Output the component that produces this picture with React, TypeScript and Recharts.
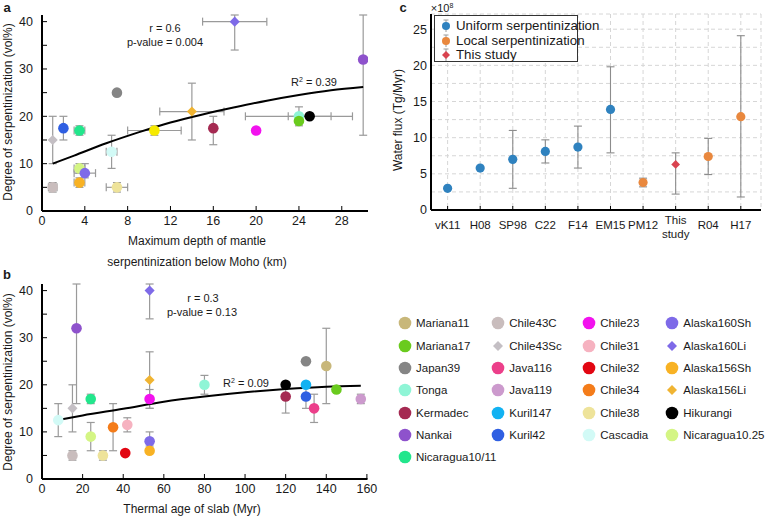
import React from 'react';
import { ScatterChart, Scatter, XAxis, YAxis, ErrorBar, CartesianGrid, Legend } from 'recharts';

const FONT = '"Liberation Sans", Arial, sans-serif';

// sites used in panels a and b (legend order: column by column)
const siteNames = [
  'Mariana11', 'Mariana17', 'Japan39', 'Tonga', 'Kermadec', 'Nankai', 'Nicaragua10/11',
  'Chile43C', 'Chile43Sc', 'Java116', 'Java119', 'Kuril147', 'Kuril42',
  'Chile23', 'Chile31', 'Chile32', 'Chile34', 'Chile38', 'Cascadia',
  'Alaska160Sh', 'Alaska160Li', 'Alaska156Sh', 'Alaska156Li', 'Hikurangi', 'Nicaragua10.25',
];
const siteColors = [
  '#c8b77a', '#6acb1e', '#858585', '#8ff5d6', '#a52a52', '#8e52cc', '#22e68c',
  '#c9bdbd', '#c4bfc4', '#ec3f8a', '#cc9acd', '#12b2f2', '#2f5fe2',
  '#f212ee', '#f6b2c0', '#e20612', '#f47c1a', '#eee39a', '#d2faf6',
  '#7e6ae8', '#7e6ae8', '#f8b224', '#f0b432', '#000000', '#d4f584',
];
const diamondSites = ['Chile43Sc', 'Alaska160Li', 'Alaska156Li'];
const legendColumns = [7, 6, 6, 6];

// panel a
const depthSites = ['Chile43Sc', 'Chile43C', 'Kuril42', 'Nicaragua10/11', 'Nicaragua10.25', 'Alaska156Sh', 'Alaska160Sh', 'Cascadia', 'Japan39', 'Chile38', 'other', 'Alaska156Li', 'Kermadec', 'Alaska160Li', 'Chile23', 'Tonga', 'Mariana17', 'Hikurangi', 'Nankai'];
const depthKm = [1, 1, 2, 3.5, 3.5, 3.5, 4, 6.5, 7, 7, 10.5, 14, 16, 18, 20, 24, 24, 25, 30];
const serpByDepth = [15, 5, 17.5, 17, 9, 6, 8, 12.5, 25, 5, 17, 21, 17.5, 40, 17, 20, 19, 20, 32];
const depthRange: ([number, number] | null)[] = [null, [0.6, 1.4], null, [3, 4], [3, 4], [3, 4], [3, 5], [6, 7], null, [6, 8], [8, 13], [11, 17], null, [15, 21], null, [19, 29], null, [23, 27], null];
// bars that run off the top of the frame stop at the frame (41.4)
const serpRangeA: ([number, number] | null)[] = [[10, 20], [4, 6], [15, 20], [16, 18], [8, 10], [5, 7], [7, 10], [9, 16], null, [4, 6], [16, 18], [15, 27], [14, 20], [34, 41.4], null, [18, 22], null, null, [16, 41.4]];
const fitDepthX = [1, 3, 6, 9, 12, 15, 18, 21, 24, 27, 30];
const fitDepthY = [10, 11.7, 14.3, 16.6, 18.7, 20.4, 21.9, 23.3, 24.5, 25.5, 26.2];

// panel b
const ageSites = ['Cascadia', 'Chile43Sc', 'Chile43C', 'Nankai', 'Nicaragua10/11', 'Nicaragua10.25', 'Chile38', 'Chile34', 'Chile32', 'Chile31', 'Alaska160Li', 'Alaska156Li', 'Chile23', 'Alaska160Sh', 'Alaska156Sh', 'Tonga', 'Kermadec', 'Hikurangi', 'Japan39', 'Kuril147', 'Kuril42', 'Java116', 'Mariana11', 'Mariana17', 'Java119'];
const slabAge = [8, 15, 15, 17, 24, 24, 30, 35, 41, 42, 53, 53, 53, 53, 53, 80, 120, 120, 130, 130, 130, 134, 140, 145, 157];
const serpByAge = [12.5, 15, 5, 32, 17, 9, 5, 11, 5.5, 11.5, 40, 21, 17, 8, 6, 20, 17.5, 20, 25, 20, 17.5, 15, 24, 19, 17];
const serpRangeB: ([number, number] | null)[] = [[9, 16], [10, 20], [4, 6], [16, 41.4], [16, 18], [6, 12], [4, 6], [6, 16], null, [10, 13], [34, 41.4], [15, 27], [15, 19], [7, 10], null, [18, 22], [14, 20], null, null, null, [15, 20], [12, 18], [16, 32], null, [16, 18]];
const fitAgeX = [10, 20, 40, 60, 80, 100, 120, 140, 157];
const fitAgeY = [12.7, 13.5, 14.9, 16.4, 17.5, 18.4, 19.1, 19.6, 19.8];

// panel c
const fluxRefs = ['vK11', 'H08', 'SP98', 'C22', 'F14', 'EM15', 'PM12', 'This study', 'R04', 'H17'];
const fluxVals = [3.0, 5.8, 7.0, 8.1, 8.7, 13.9, 3.8, 6.3, 7.4, 12.9];
const fluxLow = [null, null, 3.0, 6.5, 5.8, 7.9, 3.2, 2.2, 4.9, 1.8];
const fluxHigh = [null, null, 11.0, 9.7, 11.6, 19.8, 4.4, 7.9, 9.9, 24.1];
const fluxGroupOf = [0, 0, 0, 0, 0, 0, 1, 2, 1, 1];
const fluxGroups = ['Uniform serpentinization', 'Local serpentinization', 'This study'];
const fluxColors = ['#2f82bf', '#e9883e', '#d9434f'];

const colorOf = (s: string) => (s === 'other' ? '#f6ea00' : siteColors[siteNames.indexOf(s)]);
const delta = (v: number, r: [number, number] | null) => (r ? [v - r[0], r[1] - v] : null);

const pointsA = depthSites.map((s, i) => ({
  x: depthKm[i], y: serpByDepth[i],
  ex: delta(depthKm[i], depthRange[i]), ey: delta(serpByDepth[i], serpRangeA[i]),
  color: colorOf(s), diamond: diamondSites.includes(s), r: 5.3,
}));
const pointsB = ageSites.map((s, i) => ({
  x: slabAge[i], y: serpByAge[i], ey: delta(serpByAge[i], serpRangeB[i]),
  color: colorOf(s), diamond: diamondSites.includes(s), r: 5.3,
}));
const fitA = fitDepthX.map((x, i) => ({ x, y: fitDepthY[i] }));
const fitB = fitAgeX.map((x, i) => ({ x, y: fitAgeY[i] }));
const fluxSeries = fluxGroups.map((g, gi) =>
  fluxRefs.map((_, i) => i).filter((i) => fluxGroupOf[i] === gi).map((i) => ({
    x: i, y: fluxVals[i],
    ey: fluxLow[i] == null ? null : [fluxVals[i] - (fluxLow[i] as number), (fluxHigh[i] as number) - fluxVals[i]],
    color: fluxColors[gi], diamond: gi === 2, r: 4.6,
  }))
);

const Marker = (props: any) => {
  const { cx, cy, payload } = props;
  if (cx == null || cy == null) return <g />;
  const r = payload.r;
  if (payload.diamond) {
    const d = r * 0.95;
    return <polygon points={`${cx},${cy - d} ${cx + d},${cy} ${cx},${cy + d} ${cx - d},${cy}`} fill={payload.color} />;
  }
  return <circle cx={cx} cy={cy} r={r} fill={payload.color} />;
};

const NoDot = () => <g />;
const Empty = () => <g />;

const numTick = (orient: 'bottom' | 'left', every: number, size: number) => (props: any) => {
  const { x, y, payload } = props;
  const v = payload.value;
  if (Math.abs(v / every - Math.round(v / every)) > 1e-6) return <g />;
  return (
    <text x={x} y={y} dy={orient === 'bottom' ? '0.71em' : '0.355em'} textAnchor={orient === 'bottom' ? 'middle' : 'end'}
      fontSize={size} fill="#1a1a1a" fontFamily={FONT}>{v}</text>
  );
};

const refTick = (props: any) => {
  const { x, y, payload } = props;
  const words = fluxRefs[payload.value].split(' ');
  if (words.length > 1) {
    return (
      <text x={x} y={y} textAnchor="middle" fontSize={11.5} fill="#1a1a1a" fontFamily={FONT}>
        <tspan x={x} dy="0.25em">{words[0]}</tspan>
        <tspan x={x} dy="1.2em">{words[1]}</tspan>
      </text>
    );
  }
  return <text x={x} y={y} dy="0.71em" textAnchor="middle" fontSize={11.5} fill="#1a1a1a" fontFamily={FONT}>{words[0]}</text>;
};

const Txt = ({ x, y, children, size = 12, anchor = 'middle', rotate = false, bold = false }: any) => (
  <div style={{
    position: 'absolute', left: x, top: y, whiteSpace: 'nowrap', lineHeight: 1, fontSize: size, fontFamily: FONT,
    fontWeight: bold ? 700 : 400, color: '#1a1a1a',
    transform: `translate(${anchor === 'middle' ? '-50%' : '0'}, -50%)${rotate ? ' rotate(-90deg)' : ''}`,
    transformOrigin: anchor === 'middle' ? 'center' : 'left center',
  }}>{children}</div>
);

const frame = { stroke: '#000', strokeWidth: 2 };

function SerpPanel({ points, fit, xDomain, xTicks, xEvery, withXErr, margin, width, height, xAxisHeight }: any) {
  return (
    <ScatterChart width={width} height={height} margin={margin}>
      <XAxis xAxisId={0} type="number" dataKey="x" domain={xDomain} allowDataOverflow ticks={xTicks} interval={0}
        axisLine={frame} tickLine={{ stroke: '#000' }} tickSize={-5} tickMargin={10} height={xAxisHeight}
        tick={numTick('bottom', xEvery, 12.5)} />
      <XAxis xAxisId="top" orientation="top" type="number" domain={xDomain} allowDataOverflow ticks={xTicks} interval={0}
        axisLine={frame} tickLine={{ stroke: '#000' }} tickSize={-5} height={0} tick={Empty} />
      <YAxis yAxisId={0} type="number" dataKey="y" domain={[0, 41.4]} allowDataOverflow ticks={[0, 5, 10, 15, 20, 25, 30, 35, 40]} interval={0}
        axisLine={frame} tickLine={{ stroke: '#000' }} tickSize={-5} tickMargin={14} width={42}
        tick={numTick('left', 10, 12.5)} />
      <YAxis yAxisId="right" orientation="right" type="number" domain={[0, 41.4]} allowDataOverflow ticks={[0, 5, 10, 15, 20, 25, 30, 35, 40]} interval={0}
        axisLine={frame} tickLine={{ stroke: '#000' }} tickSize={-5} width={0} tick={Empty} />
      <Scatter data={fit} shape={NoDot} line={{ stroke: '#000', strokeWidth: 2 }} lineJointType="monotoneX" isAnimationActive={false} legendType="none" />
      <Scatter data={points} shape={Marker} isAnimationActive={false} legendType="none">
        {withXErr && <ErrorBar dataKey="ex" direction="x" width={4} stroke="#9a9a9a" strokeWidth={1.2} />}
        <ErrorBar dataKey="ey" direction="y" width={4} stroke="#9a9a9a" strokeWidth={1.2} />
      </Scatter>
    </ScatterChart>
  );
}

const FluxLegend = () => (
  <div style={{ border: '1.5px solid #333', background: '#fff', width: 142, height: 45, position: 'relative', fontFamily: FONT }}>
    {fluxGroups.map((g, i) => (
      <div key={g} style={{ position: 'absolute', left: 0, top: 3 + i * 14.5, height: 14, width: 142 }}>
        <svg width={20} height={14} style={{ position: 'absolute', left: 1, top: 0 }}>
          <line x1={10} y1={1} x2={10} y2={13} stroke="#9a9a9a" strokeWidth={1} />
          <line x1={7.5} y1={1} x2={12.5} y2={1} stroke="#9a9a9a" strokeWidth={1} />
          {i === 2
            ? <polygon points="10,3 14,7 10,11 6,7" fill={fluxColors[i]} />
            : <circle cx={10} cy={7} r={4} fill={fluxColors[i]} />}
        </svg>
        <span style={{ position: 'absolute', left: 21, top: 0, fontSize: 13.3, lineHeight: '14px', color: '#1a1a1a', whiteSpace: 'nowrap' }}>{g}</span>
      </div>
    ))}
  </div>
);

function FluxPanel() {
  return (
    <ScatterChart width={388} height={260} margin={{ top: 14, right: 7, bottom: 0, left: 0 }}>
      <CartesianGrid stroke="#d6d6d6" strokeDasharray="4 3" />
      <XAxis type="number" dataKey="x" domain={[-0.51, 9.62]} allowDataOverflow ticks={fluxRefs.map((_, i) => i)} interval={0}
        axisLine={frame} tickLine={{ stroke: '#000' }} tickSize={-4} tickMargin={15} height={50} tick={refTick} />
      <XAxis xAxisId="top" orientation="top" type="number" domain={[-0.51, 9.62]} allowDataOverflow height={0}
        axisLine={frame} tickLine={false} tick={false} />
      <YAxis type="number" dataKey="y" domain={[0, 27.1]} allowDataOverflow ticks={[0, 2.5, 5, 7.5, 10, 12.5, 15, 17.5, 20, 22.5, 25]} interval={0}
        axisLine={frame} tickLine={false} tickSize={0} tickMargin={4} width={51} tick={numTick('left', 5, 12.5)} />
      <YAxis yAxisId="right" orientation="right" type="number" domain={[0, 27.1]} allowDataOverflow width={0}
        axisLine={frame} tickLine={false} tick={false} />
      {fluxSeries.map((d, gi) => (
        <Scatter key={fluxGroups[gi]} name={fluxGroups[gi]} data={d} fill={fluxColors[gi]} shape={Marker} isAnimationActive={false}>
          <ErrorBar dataKey="ey" direction="y" width={4} stroke="#8c8c8c" strokeWidth={1.1} />
        </Scatter>
      ))}
      <Legend layout="vertical" align="center" verticalAlign="middle" content={FluxLegend}
        wrapperStyle={{ left: 54, top: 15, width: 146, height: 49 }} />
    </ScatterChart>
  );
}

function SiteLegend() {
  let idx = 0;
  const cols = legendColumns.map((n) => {
    const items = siteNames.slice(idx, idx + n).map((s, k) => ({ s, c: siteColors[idx + k] }));
    idx += n;
    return items;
  });
  const colX = [405, 498.3, 589.3, 672.3];
  return (
    <>
      {cols.map((items, ci) => items.map(({ s, c }, ri) => {
        const cy = 323.3 + ri * 22.3;
        const dia = diamondSites.includes(s);
        return (
          <React.Fragment key={s}>
            <svg width={16} height={16} style={{ position: 'absolute', left: colX[ci] - 8, top: cy - 8 }}>
              {dia ? <polygon points="8,3 13,8 8,13 3,8" fill={c} /> : <circle cx={8} cy={8} r={6.3} fill={c} />}
            </svg>
            <Txt x={colX[ci] + 11} y={cy + 1} anchor="start" size={11.5}>{s}</Txt>
          </React.Fragment>
        );
      }))}
    </>
  );
}

export default function App() {
  return (
    <div style={{ position: 'absolute', left: 0, top: 0, width: 768, height: 518, background: '#fff', fontFamily: FONT, overflow: 'hidden' }}>
      <div style={{ position: 'absolute', left: 0, top: 0 }}>
        <SerpPanel points={pointsA} fit={fitA} xDomain={[0, 30.45]} xTicks={[0, 4, 8, 12, 16, 20, 24, 28]} xEvery={4} withXErr
          width={380} height={260} margin={{ top: 15, right: 12, bottom: 0, left: 0 }} xAxisHeight={49} />
      </div>
      <div style={{ position: 'absolute', left: 0, top: 260 }}>
        <SerpPanel points={pointsB} fit={fitB} xDomain={[0, 160.3]} xTicks={[0, 20, 40, 60, 80, 100, 120, 140, 160]} xEvery={20} withXErr={false}
          width={380} height={258} margin={{ top: 24, right: 12.5, bottom: 0, left: 0 }} xAxisHeight={39} />
      </div>
      <div style={{ position: 'absolute', left: 380, top: 0 }}>
        <FluxPanel />
      </div>

      <Txt x={7} y={7} size={13} bold>a</Txt>
      <Txt x={7} y={274} size={13} bold>b</Txt>
      <Txt x={403} y={7} size={13} bold>c</Txt>

      <Txt x={8} y={112} rotate>Degree of serpentinization (vol%)</Txt>
      <Txt x={197} y={241}>Maximum depth of mantle</Txt>
      <Txt x={197} y={262}>serpentinization below Moho (km)</Txt>
      <Txt x={165} y={28} size={11}>r = 0.6</Txt>
      <Txt x={165} y={42} size={11}>p-value = 0.004</Txt>
      <Txt x={314} y={82} size={11}>R<sup style={{ fontSize: 7, verticalAlign: 4 }}>2</sup> = 0.39</Txt>

      <Txt x={8} y={382} rotate>Degree of serpentinization (vol%)</Txt>
      <Txt x={192} y={509}>Thermal age of slab (Myr)</Txt>
      <Txt x={203} y={298} size={11}>r = 0.3</Txt>
      <Txt x={202} y={312} size={11}>p-value = 0.13</Txt>
      <Txt x={246} y={383} size={11}>R<sup style={{ fontSize: 7, verticalAlign: 4 }}>2</sup> = 0.09</Txt>

      <Txt x={398} y={120} rotate>Water flux (Tg/Myr)</Txt>
      <Txt x={442} y={8} size={11}>×10<sup style={{ fontSize: 7, verticalAlign: 4 }}>8</sup></Txt>

      <SiteLegend />
    </div>
  );
}
